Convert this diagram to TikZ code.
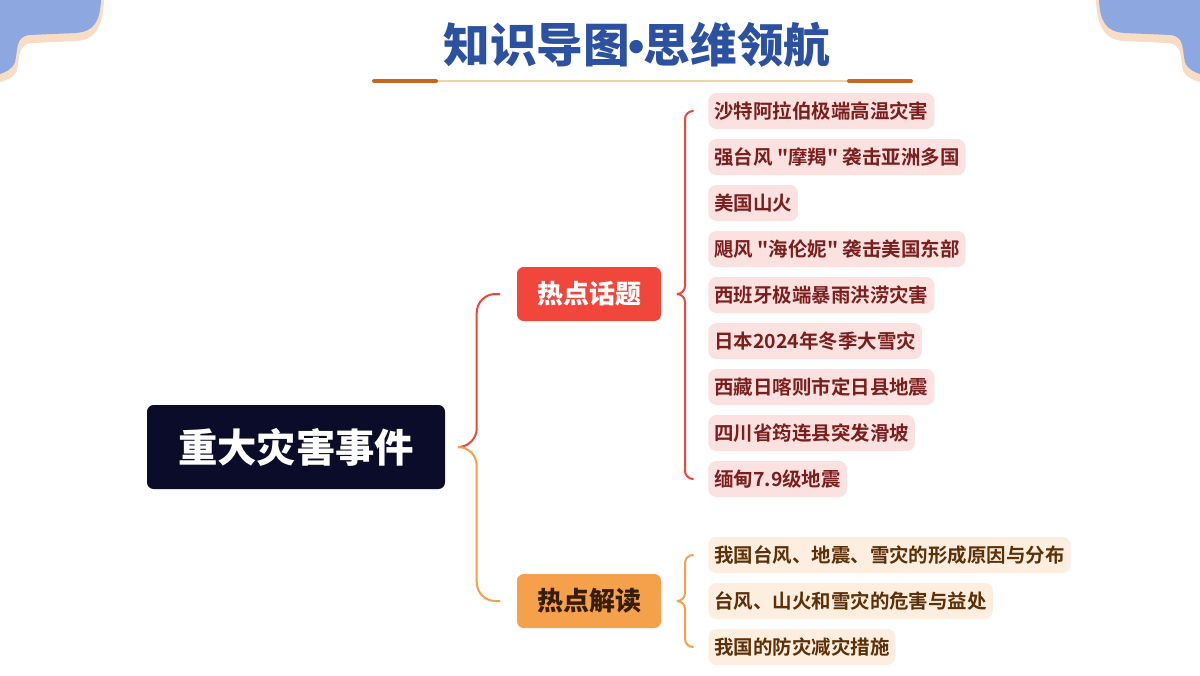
\documentclass[tikz,border=0pt]{standalone}
\usepackage{fontspec}
\usepackage{tikz}
\usetikzlibrary{calc}
\newfontfamily\cjk{Noto Sans CJK SC}[BoldFont={Noto Sans CJK SC Bold}]
\newfontfamily\cjkheavy{Noto Sans CJK SC Black}
\newfontfamily\latinbf{Liberation Sans Bold}
\definecolor{titleblue}{HTML}{2B51A0}
\definecolor{cornerblue}{HTML}{8DA8E0}
\definecolor{cornerpeach}{HTML}{F9DCC4}
\definecolor{lineorange}{HTML}{C8661F}
\definecolor{linepale}{HTML}{F2D3A6}
\definecolor{rootnavy}{HTML}{0B0C2A}
\definecolor{hotred}{HTML}{F0463C}
\definecolor{hotorange}{HTML}{F5A04B}
\definecolor{pinkbox}{HTML}{FCE1E1}
\definecolor{pinktxt}{HTML}{7A1E1E}
\definecolor{peachbox}{HTML}{FDEEDF}
\definecolor{peachtxt}{HTML}{5C3008}
\tikzset{
  rootS/.style ={fill=rootnavy, text=white, rounded corners=5pt, minimum width=223.5pt, minimum height=63pt,
                 font=\cjkheavy\fontsize{29.5}{32}\selectfont},
  hotS/.style  ={fill=#1, rounded corners=5pt, minimum width=108pt, minimum height=40.5pt,
                 font=\cjkheavy\fontsize{19.5}{22}\selectfont},
  topicS/.style={fill=pinkbox, text=pinktxt, rounded corners=6pt, minimum height=27pt, inner xsep=4.5pt,
                 inner ysep=0pt, anchor=west, font=\cjk\bfseries\fontsize{14.6}{16}\selectfont},
  readS/.style ={topicS, fill=peachbox, text=peachtxt},
  braceS/.style={draw=#1, line width=1.5pt, line cap=round},
}

\begin{document}
\begin{tikzpicture}[x=0.75pt, y=-0.75pt]
  \useasboundingbox (0,0) rectangle (1200,675);
  % corners
  \fill[cornerpeach] (2,0) -- (104,0) .. controls (103,24) and (97,40) .. (76,41) -- (32,43)
     .. controls (17,44) and (20,58) .. (17,70) .. controls (14,78) and (7,80) .. (0,82) -- cycle;
  \fill[cornerblue] (0,0) -- (101,0) .. controls (100,20) and (95,32) .. (75,33) -- (30,35)
     .. controls (15,36) and (18,50) .. (15,62) .. controls (12,70) and (5,72) .. (0,74) -- cycle;
  \fill[cornerpeach] (1200,0) -- (1096,0) .. controls (1097,24) and (1103,40) .. (1124,41) -- (1168,43)
     .. controls (1183,44) and (1180,58) .. (1183,70) .. controls (1186,78) and (1193,80) .. (1200,82) -- cycle;
  \fill[cornerblue] (1200,0) -- (1099,0) .. controls (1100,20) and (1105,32) .. (1125,33) -- (1170,35)
     .. controls (1185,36) and (1182,50) .. (1185,62) .. controls (1188,70) and (1195,72) .. (1200,74) -- cycle;
  % title
  \node[text=titleblue, font=\cjkheavy\fontsize{35}{38}\selectfont] (title) at (637,45)
     {知识导图{\latinbf\kern-1pt•\kern-1pt}思维领航};
  \draw[linepale, line width=1.5pt] (372,81) -- (912,81);
  \draw[lineorange, line width=3pt, line cap=round] (374,81) -- (436,81);
  \draw[lineorange, line width=3pt, line cap=round] (849,81) -- (911,81);
  % nodes
  \node[rootS] (root) at (296,447) {重大灾害事件};
  \node[hotS=hotred, text=white] (hot) at (589,294) {热点话题};
  \node[hotS=hotorange, text=peachtxt!60!black] (interp) at (589,601) {热点解读};
  \foreach \n/\txt in {1/沙特阿拉伯极端高温灾害, 2/强台风 "摩羯" 袭击亚洲多国, 3/美国山火,
      4/飓风 "海伦妮" 袭击美国东部, 5/西班牙极端暴雨洪涝灾害, 6/日本2024年冬季大雪灾,
      7/西藏日喀则市定日县地震, 8/四川省筠连县突发滑坡, 9/缅甸7.9级地震}
    \node[topicS] (t\n) at (708,{111+46*(\n-1)}) {\txt};
  \foreach \n/\txt in {1/我国台风、地震、雪灾的形成原因与分布, 2/台风、山火和雪灾的危害与益处, 3/我国的防灾减灾措施}
    \node[readS] (r\n) at (708,{555+46*(\n-1)}) {\txt};
  % braces
  \draw[braceS=hotred, rounded corners=14pt] ($(root.east)+(15,0)$) -| ($(hot.west)+(-40,0)$) -- ($(hot.west)+(-17,0)$);
  \draw[braceS=hotorange, rounded corners=14pt] ($(root.east)+(15,0)$) -| ($(interp.west)+(-40,0)$) -- ($(interp.west)+(-17,0)$);
  \draw[braceS=hotred, rounded corners=6pt] ($(hot.east)+(16,0)$) -| ($(t1.west)+(-23,0)$) -- ($(t1.west)+(-15,0)$);
  \draw[braceS=hotred, rounded corners=6pt] ($(hot.east)+(16,0)$) -| ($(t9.west)+(-23,0)$) -- ($(t9.west)+(-15,0)$);
  \draw[braceS=hotorange, rounded corners=6pt] ($(interp.east)+(16,0)$) -| ($(r1.west)+(-23,0)$) -- ($(r1.west)+(-15,0)$);
  \draw[braceS=hotorange, rounded corners=6pt] ($(interp.east)+(16,0)$) -| ($(r3.west)+(-23,0)$) -- ($(r3.west)+(-15,0)$);
\end{tikzpicture}
\end{document}
